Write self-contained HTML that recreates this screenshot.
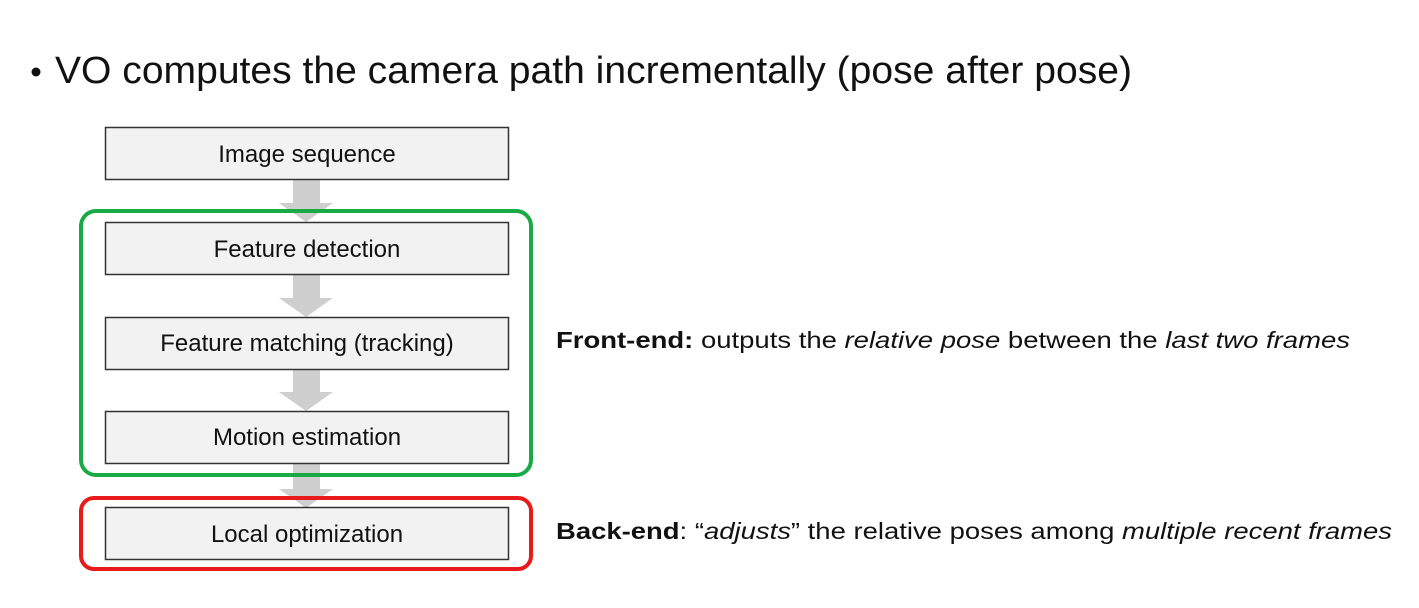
<!DOCTYPE html>
<html><head><meta charset="utf-8"><style>
html,body{margin:0;padding:0;background:#fff;}
svg{display:block;}
</style></head><body>
<svg width="1419" height="608" viewBox="0 0 1419 608" xmlns="http://www.w3.org/2000/svg" font-family="Liberation Sans, Arial, sans-serif">
<rect width="1419" height="608" fill="#fff"/>
<circle cx="36" cy="72" r="4.5" fill="#111"/>
<text x="55" y="83" font-size="38" fill="#111" textLength="1077" lengthAdjust="spacingAndGlyphs">VO computes the camera path incrementally (pose after pose)</text>

<g fill="#cfcfcf">
<polygon points="293,179 320,179 320,203 333,203 306,222 279,203 293,203"/>
<polygon points="293,274 320,274 320,298 333,298 306,317 279,298 293,298"/>
<polygon points="293,369 320,369 320,392 333,392 306,411 279,392 293,392"/>
<polygon points="293,463 320,463 320,489 333,489 306,508 279,489 293,489"/>
</g>

<rect x="81" y="211" width="450" height="264" rx="15" fill="none" stroke="#1aaa45" stroke-width="4"/>
<rect x="81" y="498" width="450" height="71" rx="13" fill="none" stroke="#e81b1b" stroke-width="4"/>

<g fill="#f2f2f2" stroke="#333" stroke-width="1.5">
<rect x="105.5" y="127.5" width="403" height="52"/>
<rect x="105.5" y="222.5" width="403" height="52"/>
<rect x="105.5" y="317.5" width="403" height="52"/>
<rect x="105.5" y="411.5" width="403" height="52"/>
<rect x="105.5" y="507.5" width="403" height="52"/>
</g>
<g font-size="24" fill="#111" text-anchor="middle">
<text x="307" y="162">Image sequence</text>
<text x="307" y="257">Feature detection</text>
<text x="307" y="351">Feature matching (tracking)</text>
<text x="307" y="445">Motion estimation</text>
<text x="307" y="542">Local optimization</text>
</g>

<text x="556" y="348" font-size="23" fill="#111" textLength="794" lengthAdjust="spacingAndGlyphs"><tspan font-weight="bold">Front-end:</tspan> outputs the <tspan font-style="italic">relative pose</tspan> between the <tspan font-style="italic">last two frames</tspan></text>
<text x="556" y="539" font-size="23" fill="#111" textLength="836" lengthAdjust="spacingAndGlyphs"><tspan font-weight="bold">Back-end</tspan>: “<tspan font-style="italic">adjusts</tspan>” the relative poses among <tspan font-style="italic">multiple recent frames</tspan></text>
</svg>
</body></html>
